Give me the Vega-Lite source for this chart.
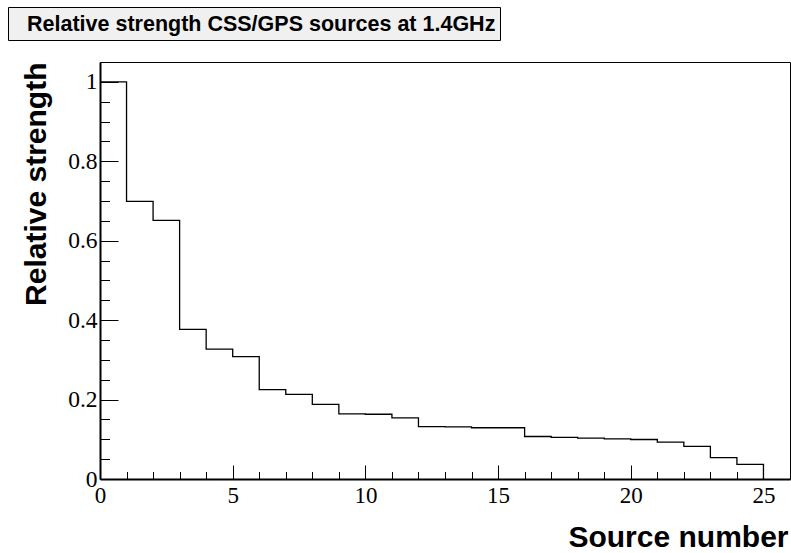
{
  "$schema": "https://vega.github.io/schema/vega-lite/v6.json",
  "width": 690,
  "height": 417,
  "autosize": {"type": "none"},
  "padding": {"left": 100, "top": 62, "right": 1, "bottom": 74},
  "background": "white",
  "config": {"view": {"stroke": "black", "strokeWidth": 1}},
  "data": {"values": [
    {"source": 0, "strength": 1.0},
    {"source": 1, "strength": 0.699},
    {"source": 2, "strength": 0.651},
    {"source": 3, "strength": 0.377},
    {"source": 4, "strength": 0.327},
    {"source": 5, "strength": 0.308},
    {"source": 6, "strength": 0.225},
    {"source": 7, "strength": 0.213},
    {"source": 8, "strength": 0.188},
    {"source": 9, "strength": 0.164},
    {"source": 10, "strength": 0.163},
    {"source": 11, "strength": 0.154},
    {"source": 12, "strength": 0.132},
    {"source": 13, "strength": 0.131},
    {"source": 14, "strength": 0.129},
    {"source": 15, "strength": 0.129},
    {"source": 16, "strength": 0.107},
    {"source": 17, "strength": 0.105},
    {"source": 18, "strength": 0.103},
    {"source": 19, "strength": 0.101},
    {"source": 20, "strength": 0.0995},
    {"source": 21, "strength": 0.093},
    {"source": 22, "strength": 0.082},
    {"source": 23, "strength": 0.054},
    {"source": 24, "strength": 0.037},
    {"source": 25, "strength": 0}
  ]},
  "layer": [
    {
      "mark": {"type": "line", "interpolate": "step-after", "strokeWidth": 1.3},
      "encoding": {
        "x": {"field": "source", "type": "quantitative",
          "scale": {"domain": [0, 26], "nice": false, "zero": false},
          "axis": {"orient": "bottom", "values": [0, 5, 10, 15, 20, 25], "ticks": false, "grid": false,
            "domain": true, "domainColor": "black", "domainWidth": 2,
            "labelFont": "Liberation Serif", "labelFontSize": 23, "labelColor": "black", "labelPadding": 5,
            "labelFlush": false, "labelOverlap": false, "format": "~g",
            "title": "Source number", "titleFont": "Liberation Sans", "titleFontSize": 30, "titleFontWeight": "bold",
            "titleColor": "black", "titleX": 688, "titleY": 67, "titleAlign": "right", "titleBaseline": "alphabetic"}},
        "y": {"field": "strength", "type": "quantitative",
          "scale": {"domain": [0, 1.05], "nice": false},
          "axis": {"orient": "left", "values": [0, 0.2, 0.4, 0.6, 0.8, 1], "ticks": false, "grid": false,
            "domain": true, "domainColor": "black", "domainWidth": 2,
            "labelFont": "Liberation Serif", "labelFontSize": 23.5, "labelColor": "black", "labelPadding": 3,
            "labelFlush": false, "labelOverlap": false, "format": "~g",
            "title": "Relative strength", "titleFont": "Liberation Sans", "titleFontSize": 30, "titleFontWeight": "bold",
            "titleColor": "black", "titleX": -55, "titleY": 0, "titleAngle": 270, "titleAlign": "right", "titleBaseline": "alphabetic"}},
        "color": {"datum": "h", "type": "nominal", "scale": {"range": ["black"]},
          "legend": {"orient": "none", "legendX": -92, "legendY": -55,
            "title": "Relative strength CSS/GPS sources at 1.4GHz",
            "titleFont": "Liberation Sans", "titleFontSize": 21.5, "titleFontWeight": "bold", "titleColor": "black",
            "titleOrient": "right", "titlePadding": 0, "titleLimit": 1000, "titleBaseline": "top",
            "fillColor": "#f0f0f0", "strokeColor": "black", "padding": 4,
            "symbolSize": 0, "symbolOpacity": 0, "symbolStrokeWidth": 0,
            "labelFontSize": 0, "labelExpr": "''", "labelOffset": 5}}
      }
    },
    {
      "mark": {"type": "line", "interpolate": "step-after", "opacity": 0},
      "encoding": {
        "x": {"field": "source", "type": "quantitative",
          "axis": {"orient": "bottom", "values": [0, 5, 10, 15, 20, 25], "labels": false, "domain": false, "grid": false,
            "ticks": true, "tickSize": -14, "tickColor": "black", "tickWidth": 1, "title": null, "zindex": 2}},
        "y": {"field": "strength", "type": "quantitative",
          "axis": {"orient": "left", "values": [0, 0.2, 0.4, 0.6, 0.8, 1], "labels": false, "domain": false, "grid": false,
            "ticks": true, "tickSize": -18, "tickColor": "black", "tickWidth": 1, "title": null, "zindex": 2}}
      }
    },
    {
      "mark": {"type": "line", "interpolate": "step-after", "opacity": 0},
      "encoding": {
        "x": {"field": "source", "type": "quantitative",
          "axis": {"orient": "bottom", "values": [1, 2, 3, 4, 6, 7, 8, 9, 11, 12, 13, 14, 16, 17, 18, 19, 21, 22, 23, 24],
            "labels": false, "domain": false, "grid": false,
            "ticks": true, "tickSize": -7.5, "tickColor": "black", "tickWidth": 1, "title": null, "zindex": 2}},
        "y": {"field": "strength", "type": "quantitative",
          "axis": {"orient": "left", "values": [0.05, 0.1, 0.15, 0.25, 0.3, 0.35, 0.45, 0.5, 0.55, 0.65, 0.7, 0.75, 0.85, 0.9, 0.95],
            "labels": false, "domain": false, "grid": false,
            "ticks": true, "tickSize": -9.5, "tickColor": "black", "tickWidth": 1, "title": null, "zindex": 2}}
      }
    }
  ],
  "resolve": {"axis": {"x": "independent", "y": "independent"}}
}
